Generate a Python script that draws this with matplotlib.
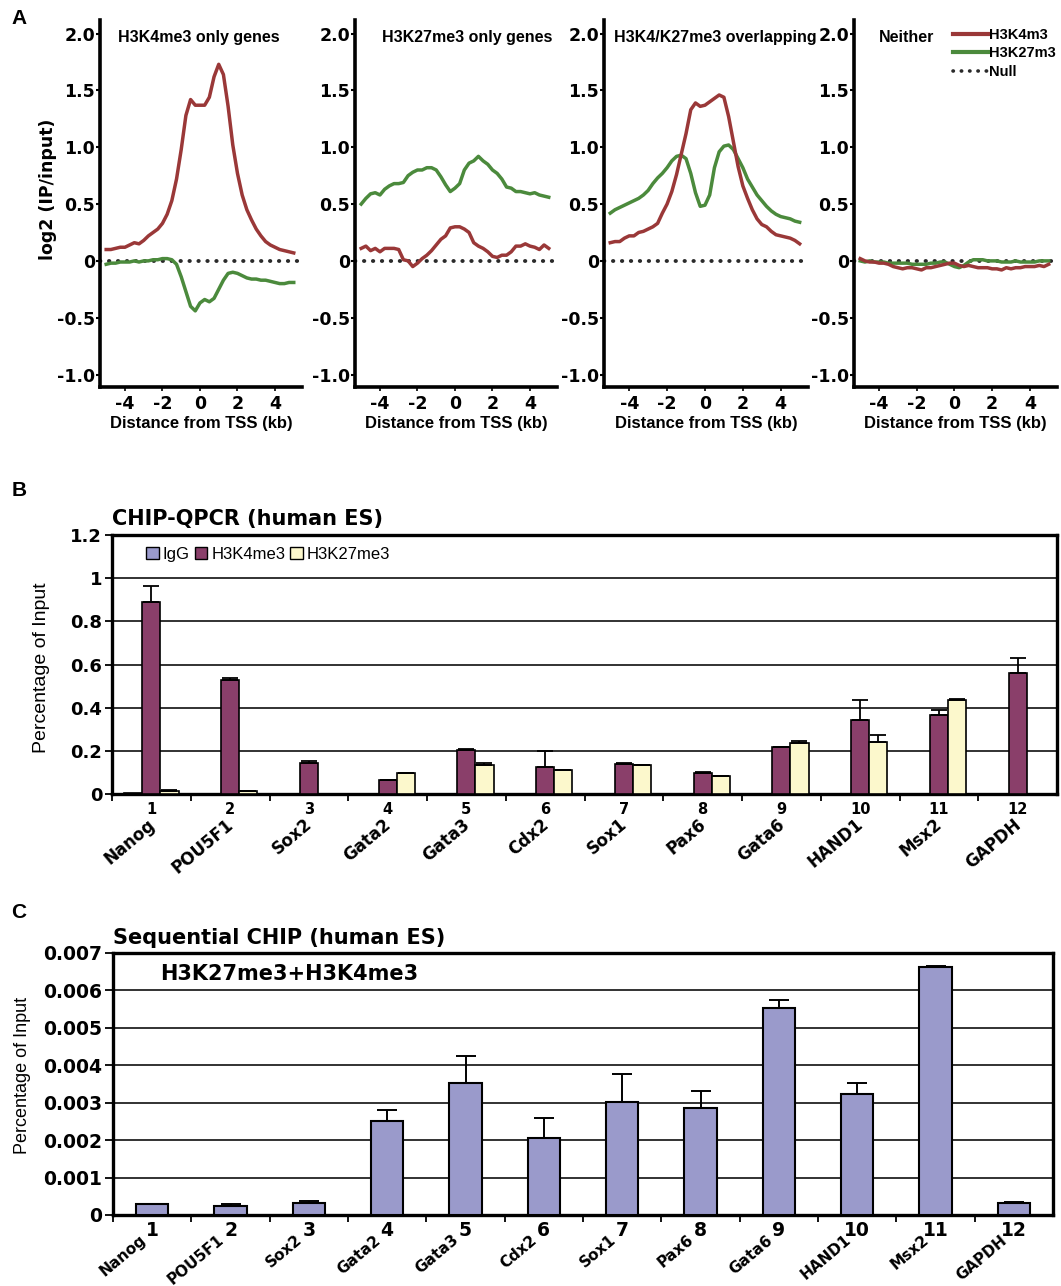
import matplotlib
matplotlib.use('Agg')
import matplotlib.pyplot as plt
import numpy as np
from matplotlib.lines import Line2D
from matplotlib.patches import Patch

# ---------------- data ----------------
dist_kb = [-5.0, -4.75, -4.5, -4.25, -4.0, -3.75, -3.5, -3.25, -3.0, -2.75, -2.5, -2.25, -2.0, -1.75,
           -1.5, -1.25, -1.0, -0.75, -0.5, -0.25, 0.0, 0.25, 0.5, 0.75, 1.0, 1.25, 1.5, 1.75, 2.0,
           2.25, 2.5, 2.75, 3.0, 3.25, 3.5, 3.75, 4.0, 4.25, 4.5, 4.75, 5.0]

k4_only_h3k4 = [0.10, 0.10, 0.11, 0.12, 0.12, 0.14, 0.16, 0.15, 0.18, 0.22, 0.25, 0.28, 0.33, 0.41,
                0.53, 0.72, 0.98, 1.28, 1.42, 1.37, 1.37, 1.37, 1.44, 1.62, 1.73, 1.64, 1.36, 1.02,
                0.77, 0.58, 0.45, 0.36, 0.28, 0.22, 0.17, 0.14, 0.12, 0.10, 0.09, 0.08, 0.07]
k4_only_h3k27 = [-0.03, -0.02, -0.02, -0.01, -0.01, -0.01, 0.00, -0.01, 0.00, 0.00, 0.01, 0.01, 0.02,
                 0.02, 0.01, -0.03, -0.14, -0.27, -0.40, -0.44, -0.37, -0.34, -0.36, -0.33, -0.25,
                 -0.17, -0.11, -0.10, -0.11, -0.13, -0.15, -0.16, -0.16, -0.17, -0.17, -0.18, -0.19,
                 -0.20, -0.20, -0.19, -0.19]

k27_only_h3k4 = [0.11, 0.13, 0.09, 0.11, 0.08, 0.11, 0.11, 0.11, 0.10, 0.01, 0.00, -0.05, -0.02, 0.02,
                 0.05, 0.09, 0.14, 0.19, 0.22, 0.29, 0.30, 0.30, 0.28, 0.25, 0.16, 0.13, 0.11, 0.08,
                 0.04, 0.03, 0.05, 0.05, 0.08, 0.13, 0.13, 0.15, 0.13, 0.12, 0.10, 0.14, 0.11]
k27_only_h3k27 = [0.50, 0.55, 0.59, 0.60, 0.58, 0.63, 0.66, 0.68, 0.68, 0.69, 0.75, 0.78, 0.80, 0.80,
                  0.82, 0.82, 0.80, 0.74, 0.67, 0.61, 0.64, 0.68, 0.80, 0.86, 0.88, 0.92, 0.88, 0.85,
                  0.80, 0.77, 0.72, 0.65, 0.64, 0.61, 0.61, 0.60, 0.59, 0.60, 0.58, 0.57, 0.56]

both_h3k4 = [0.16, 0.17, 0.17, 0.20, 0.22, 0.22, 0.25, 0.26, 0.28, 0.30, 0.33, 0.42, 0.50, 0.61, 0.76,
             0.94, 1.12, 1.33, 1.39, 1.36, 1.37, 1.40, 1.43, 1.46, 1.44, 1.27, 1.05, 0.83, 0.66, 0.55,
             0.45, 0.37, 0.32, 0.30, 0.26, 0.23, 0.22, 0.21, 0.20, 0.18, 0.15]
both_h3k27 = [0.42, 0.45, 0.47, 0.49, 0.51, 0.53, 0.55, 0.58, 0.62, 0.68, 0.73, 0.77, 0.82, 0.88, 0.92,
              0.93, 0.90, 0.77, 0.60, 0.48, 0.49, 0.58, 0.82, 0.96, 1.01, 1.02, 0.98, 0.90, 0.82, 0.72,
              0.65, 0.58, 0.53, 0.48, 0.44, 0.41, 0.39, 0.38, 0.37, 0.35, 0.34]

neither_h3k4 = [0.02, 0.00, -0.01, -0.01, -0.02, -0.02, -0.03, -0.05, -0.06, -0.07, -0.06, -0.06, -0.07,
                -0.08, -0.06, -0.06, -0.05, -0.04, -0.03, -0.02, -0.02, -0.04, -0.05, -0.04, -0.05,
                -0.06, -0.06, -0.06, -0.07, -0.07, -0.08, -0.06, -0.07, -0.06, -0.06, -0.05, -0.05,
                -0.05, -0.04, -0.05, -0.03]
neither_h3k27 = [0.00, -0.01, 0.00, -0.01, -0.01, -0.01, -0.02, -0.02, -0.02, -0.02, -0.02, -0.03, -0.03,
                 -0.03, -0.03, -0.02, -0.02, -0.01, -0.01, -0.03, -0.05, -0.06, -0.04, -0.01, 0.01,
                 0.01, 0.01, 0.00, 0.00, 0.00, -0.01, -0.01, -0.01, 0.00, -0.01, -0.01, -0.01, -0.01,
                 0.00, 0.00, 0.00]

a_titles = ['H3K4me3 only genes', 'H3K27me3 only genes', 'H3K4/K27me3 overlapping', 'Neither']
a_ytick_vals = [-1.0, -0.5, 0.0, 0.5, 1.0, 1.5, 2.0]
a_ytick_labels = ['-1.0', '-0.5', '0', '0.5', '1.0', '1.5', '2.0']
a_xtick_vals = [-4, -2, 0, 2, 4]
a_xtick_labels = ['-4', '-2', '0', '2', '4']
a_legend = ['H3K4m3', 'H3K27m3', 'Null']

genes = ['Nanog', 'POU5F1', 'Sox2', 'Gata2', 'Gata3', 'Cdx2', 'Sox1', 'Pax6', 'Gata6', 'HAND1', 'Msx2', 'GAPDH']
gene_numbers = ['1', '2', '3', '4', '5', '6', '7', '8', '9', '10', '11', '12']

b_igg = [0.003, 0.002, 0.0, 0.0, 0.0, 0.0, 0.0, 0.0, 0.002, 0.0, 0.002, 0.0]
b_h3k4 = [0.89, 0.53, 0.145, 0.065, 0.205, 0.124, 0.139, 0.096, 0.216, 0.345, 0.366, 0.56]
b_h3k4_err = [0.075, 0.008, 0.006, 0.002, 0.002, 0.075, 0.003, 0.005, 0.003, 0.09, 0.024, 0.07]
b_h3k27 = [0.015, 0.013, 0.0, 0.095, 0.133, 0.110, 0.134, 0.083, 0.238, 0.243, 0.437, 0.0]
b_h3k27_err = [0.002, 0.002, 0.0, 0.004, 0.012, 0.003, 0.002, 0.002, 0.008, 0.032, 0.002, 0.0]
b_yticks = [0, 0.2, 0.4, 0.6, 0.8, 1.0, 1.2]
b_ytick_labels = ['0', '0.2', '0.4', '0.6', '0.8', '1', '1.2']
b_legend = ['IgG', 'H3K4me3', 'H3K27me3']

c_seq = [0.00029, 0.00025, 0.00031, 0.00251, 0.00354, 0.00206, 0.00303, 0.00287, 0.00552, 0.00322,
         0.00662, 0.00033]
c_seq_err = [0.00001, 0.00005, 0.00006, 0.00030, 0.00070, 0.00053, 0.00074, 0.00044, 0.00023, 0.00032,
             0.00004, 0.00001]
c_yticks = [0, 0.001, 0.002, 0.003, 0.004, 0.005, 0.006, 0.007]
c_ytick_labels = ['0', '0.001', '0.002', '0.003', '0.004', '0.005', '0.006', '0.007']

# ---------------- style ----------------
ARIAL = 'Liberation Sans'
WIDE = 'DejaVu Sans'

RED = '#9a3838'
GREEN = '#4b8a3c'
IGG_C = '#9a9acc'
K4_C = '#8a3f6a'
K27_C = '#fcf8cc'
SEQ_C = '#9a9acb'

W, H = 1061, 1286
fig = plt.figure(figsize=(W / 100, H / 100), dpi=100)


def rect(l, t, r, b):
    return [l / W, 1 - b / H, (r - l) / W, (b - t) / H]


# ---------------- Panel A ----------------
a_series = [(k4_only_h3k4, k4_only_h3k27), (k27_only_h3k4, k27_only_h3k27),
            (both_h3k4, both_h3k27), (neither_h3k4, neither_h3k27)]
a_bounds = [(100, 302), (355, 557), (604, 808), (854, 1057)]
a_title_x = [0.49, 0.555, 0.545, 0.26]
a_axes = []
for i, (l, r) in enumerate(a_bounds):
    ax = fig.add_axes(rect(l, 20, r, 387))
    a_axes.append(ax)
    red, green = a_series[i]
    ax.axhline(0, color='#2a2a2a', lw=2.8, ls=(0, (0.1, 2.2)), dash_capstyle='round', zorder=1)
    ax.plot(dist_kb, green, color=GREEN, lw=2.5, solid_joinstyle='round', zorder=2)
    ax.plot(dist_kb, red, color=RED, lw=2.5, solid_joinstyle='round', zorder=3)
    ax.set_xlim(-5.33, 5.44)
    ax.set_ylim(-1.11, 2.12)
    for s in ['top', 'right']:
        ax.spines[s].set_visible(False)
    for s in ['left', 'bottom']:
        ax.spines[s].set_linewidth(2.6)
    ax.set_yticks(a_ytick_vals)
    ax.set_yticklabels(a_ytick_labels, family=WIDE, fontweight='bold', fontsize=12.5)
    ax.set_xticks(a_xtick_vals)
    ax.set_xticklabels(a_xtick_labels, family=WIDE, fontweight='bold', fontsize=12.5)
    ax.tick_params(axis='y', length=3, width=1.5, pad=0.5)
    ax.tick_params(axis='x', length=3, width=1.2, pad=3)
    ax.set_xlabel('Distance from TSS (kb)', family=ARIAL, fontweight='bold', fontsize=12, labelpad=2)
    ax.text(a_title_x[i], 0.951, a_titles[i], transform=ax.transAxes, ha='center', va='center',
            family=ARIAL, fontweight='bold', fontsize=11.5)

fig.text(48 / W, 1 - 189 / H, 'log2 (IP/input)', rotation=90, ha='center', va='center',
         family=WIDE, fontweight='bold', fontsize=12.5)

leg_handles = [Line2D([], [], color=RED, lw=3),
               Line2D([], [], color=GREEN, lw=3),
               Line2D([], [], color='#2a2a2a', lw=2.6, ls=(0, (0.1, 2.2)), dash_capstyle='round')]
a_axes[3].legend(leg_handles, a_legend, loc='upper left', bbox_to_anchor=(953 / W, 1 - 28 / H),
                 bbox_transform=fig.transFigure, frameon=False, handlelength=2.4, handletextpad=0.1,
                 labelspacing=0.3, borderaxespad=0, borderpad=0,
                 prop=dict(family=ARIAL, weight='bold', size=10.5))

fig.text(19 / W, 1 - 19 / H, 'A', ha='center', va='center', family=ARIAL, fontweight='bold', fontsize=15)

# ---------------- Panel B ----------------
pos = np.arange(1, len(genes) + 1)
axB = fig.add_axes(rect(112, 535, 1057, 794))
bw = 0.23
axB.bar(pos - bw, b_igg, bw, color=IGG_C, edgecolor='black', lw=1.2, zorder=3)
axB.bar(pos, b_h3k4, bw, color=K4_C, edgecolor='black', lw=1.2, zorder=3,
        yerr=[np.zeros(len(genes)), b_h3k4_err], capsize=6,
        error_kw=dict(ecolor='black', elinewidth=1.3, capthick=1.3, zorder=4))
axB.bar(pos + bw, b_h3k27, bw, color=K27_C, edgecolor='black', lw=1.2, zorder=3,
        yerr=[np.zeros(len(genes)), b_h3k27_err], capsize=6,
        error_kw=dict(ecolor='black', elinewidth=1.3, capthick=1.3, zorder=4))
axB.set_xlim(0.5, 12.5)
axB.set_ylim(0, 1.2)
axB.set_yticks(b_yticks)
axB.set_yticklabels(b_ytick_labels, family=WIDE, fontweight='bold', fontsize=13)
axB.yaxis.grid(True, color='#222222', lw=1.3)
axB.set_axisbelow(True)
for s in axB.spines.values():
    s.set_linewidth(2.4)
axB.set_xticks(pos)
axB.set_xticklabels(gene_numbers, family=WIDE, fontweight='bold', fontsize=10.5)
axB.set_xticks(pos - 0.5, minor=True)
axB.tick_params(axis='x', which='major', length=0, pad=6)
axB.tick_params(axis='x', which='minor', length=5, width=1.3, direction='out')
axB.tick_params(axis='y', length=5, width=1.3, pad=2)
for i, g in enumerate(genes):
    axB.text(pos[i] - 0.06, -0.082, g, transform=axB.get_xaxis_transform(), rotation=40,
             rotation_mode='anchor', ha='right', va='top', family=WIDE, fontweight='bold', fontsize=12)
fig.text(42 / W, 1 - 668 / H, 'Percentage of Input', rotation=90, ha='center', va='center',
         family=ARIAL, fontsize=14)
axB.text(0, 1.025, 'CHIP-QPCR (human ES)', transform=axB.transAxes, ha='left', va='bottom',
         family=WIDE, fontweight='bold', fontsize=15)
b_handles = [Patch(facecolor=IGG_C, edgecolor='black', lw=1.0),
             Patch(facecolor=K4_C, edgecolor='black', lw=1.0),
             Patch(facecolor=K27_C, edgecolor='black', lw=1.0)]
axB.legend(b_handles, b_legend, loc='upper left', bbox_to_anchor=(0.036, 0.955), ncol=3, frameon=False,
           handlelength=0.75, handleheight=0.75, handletextpad=0.25, columnspacing=0.3, borderaxespad=0,
           borderpad=0, prop=dict(family=ARIAL, size=12))
fig.text(19 / W, 1 - 490 / H, 'B', ha='center', va='center', family=ARIAL, fontweight='bold', fontsize=15)

# ---------------- Panel C ----------------
axC = fig.add_axes(rect(113, 953, 1053, 1215))
axC.bar(pos, c_seq, 0.41, color=SEQ_C, edgecolor='black', lw=1.5, zorder=3,
        yerr=[np.zeros(len(genes)), c_seq_err], capsize=7,
        error_kw=dict(ecolor='black', elinewidth=1.4, capthick=1.4, zorder=4))
axC.set_xlim(0.5, 12.5)
axC.set_ylim(0, 0.007)
axC.set_yticks(c_yticks)
axC.set_yticklabels(c_ytick_labels, family=WIDE, fontweight='bold', fontsize=13.5)
axC.yaxis.grid(True, color='#222222', lw=1.3)
axC.set_axisbelow(True)
for s in axC.spines.values():
    s.set_linewidth(2.4)
axC.set_xticks(pos)
axC.set_xticklabels(gene_numbers, family=WIDE, fontweight='bold', fontsize=13.5)
axC.set_xticks(pos - 0.5, minor=True)
axC.tick_params(axis='x', which='major', length=0, pad=4)
axC.tick_params(axis='x', which='minor', length=5, width=1.3, direction='out')
axC.tick_params(axis='y', length=6, width=1.3, pad=2)
for i, g in enumerate(genes):
    axC.text(pos[i] - 0.17, -0.066, g, transform=axC.get_xaxis_transform(), rotation=40,
             rotation_mode='anchor', ha='right', va='top', family=WIDE, fontweight='bold', fontsize=11)
fig.text(23 / W, 1 - 1075 / H, 'Percentage of Input', rotation=90, ha='center', va='center',
         family=ARIAL, fontsize=13)
axC.text(0, 1.02, 'Sequential CHIP (human ES)', transform=axC.transAxes, ha='left', va='bottom',
         family=WIDE, fontweight='bold', fontsize=15)
axC.text(0.05, 0.92, 'H3K27me3+H3K4me3', transform=axC.transAxes, ha='left', va='center',
         family=WIDE, fontweight='bold', fontsize=15)
fig.text(19 / W, 1 - 912 / H, 'C', ha='center', va='center', family=ARIAL, fontweight='bold', fontsize=15)

fig.savefig('out.png', dpi=100)
